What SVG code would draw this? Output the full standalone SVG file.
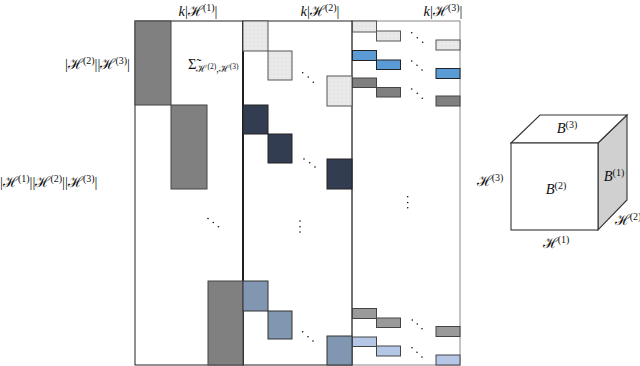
<svg xmlns="http://www.w3.org/2000/svg" width="640" height="366" viewBox="0 0 640 366">
<defs>
<pattern id="dots" width="4" height="4" patternUnits="userSpaceOnUse">
<rect width="4" height="4" fill="#e9e9e9"/>
<circle cx="2" cy="2" r="0.4" fill="#c8c8c8"/>
</pattern>
</defs>
<style>
text{font-family:"Liberation Serif","DejaVu Serif",serif;font-size:14.5px;fill:#111}
.it{font-style:italic}
.sup{font-size:10px}
.g{fill:#808080;stroke:#444;stroke-width:1}
.lg{fill:url(#dots);stroke:#555;stroke-width:1}
.nv{fill:#333d52;stroke:#222;stroke-width:1}
.bg{fill:#8096b1;stroke:#333;stroke-width:1}
.bl{fill:#5b9bd5;stroke:#222;stroke-width:1}
.g3{fill:#9a9a9a;stroke:#444;stroke-width:1}
.lb{fill:#b4c7e7;stroke:#444;stroke-width:1}
.dot{fill:#111}
.frame{fill:none;stroke:#222;stroke-width:1}
.frame3{fill:none;stroke:#888;stroke-width:1}
.cube{stroke:#333;stroke-width:1.1}
</style>
<rect width="640" height="366" fill="#fff"/>

<g id="matrix-frame">
<rect class="frame3" x="352" y="21" width="108" height="344"/>
<rect class="frame" x="135" y="21" width="108" height="344"/>
<rect class="frame" x="243" y="21" width="109" height="344"/>
<line x1="243" y1="21" x2="243" y2="365" stroke="#111" stroke-width="1.6"/>
</g>

<g id="col1">
<rect class="g" x="135" y="21" width="36" height="84"/>
<rect class="g" x="171" y="105" width="36" height="84"/>
<rect class="g" x="208" y="281" width="35" height="84"/>
<circle class="dot" cx="208" cy="218.5" r="0.8"/>
<circle class="dot" cx="213.3" cy="222.5" r="0.8"/>
<circle class="dot" cx="218.5" cy="226.7" r="0.8"/>
</g>

<g id="col2">
<rect class="lg" x="243" y="21" width="25" height="30"/>
<rect class="lg" x="268" y="51" width="24" height="29"/>
<rect class="lg" x="327" y="76" width="25" height="30"/>
<circle class="dot" cx="302.7" cy="72.7" r="0.8"/>
<circle class="dot" cx="308.3" cy="77" r="0.8"/>
<circle class="dot" cx="313.3" cy="82.3" r="0.8"/>
<rect class="nv" x="243" y="105" width="25" height="29"/>
<rect class="nv" x="268" y="134" width="24" height="29"/>
<rect class="nv" x="327" y="159" width="25" height="30"/>
<circle class="dot" cx="304" cy="159" r="0.8"/>
<circle class="dot" cx="309.7" cy="162.7" r="0.8"/>
<circle class="dot" cx="315" cy="167" r="0.8"/>
<circle class="dot" cx="300" cy="221" r="0.8"/>
<circle class="dot" cx="300" cy="226.7" r="0.8"/>
<circle class="dot" cx="300" cy="232" r="0.8"/>
<rect class="bg" x="243" y="281" width="25" height="30"/>
<rect class="bg" x="268" y="311" width="24" height="28"/>
<rect class="bg" x="327" y="336" width="25" height="29"/>
<circle class="dot" cx="302.7" cy="331.7" r="0.8"/>
<circle class="dot" cx="308" cy="336.7" r="0.8"/>
<circle class="dot" cx="313" cy="341" r="0.8"/>
</g>

<g id="col3">
<rect class="lg" x="352.5" y="21" width="24" height="11"/>
<rect class="lg" x="376.5" y="31" width="24" height="10"/>
<rect class="lg" x="436" y="40" width="24" height="10"/>
<circle class="dot" cx="411.7" cy="32.7" r="0.8"/>
<circle class="dot" cx="417.3" cy="37.7" r="0.8"/>
<circle class="dot" cx="422.7" cy="42.3" r="0.8"/>
<rect class="bl" x="352.5" y="50.5" width="24" height="10"/>
<rect class="bl" x="376.5" y="60" width="24" height="9.5"/>
<rect class="bl" x="436" y="68.5" width="24" height="10"/>
<circle class="dot" cx="411.7" cy="61" r="0.8"/>
<circle class="dot" cx="417" cy="65.3" r="0.8"/>
<circle class="dot" cx="422" cy="70" r="0.8"/>
<rect class="g" x="352.5" y="78" width="24" height="9.5"/>
<rect class="g" x="376.5" y="87.5" width="24" height="9.5"/>
<rect class="g" x="436" y="96" width="24" height="10"/>
<circle class="dot" cx="411.7" cy="89" r="0.8"/>
<circle class="dot" cx="417.3" cy="93.3" r="0.8"/>
<circle class="dot" cx="422.3" cy="98.3" r="0.8"/>
<circle class="dot" cx="407.7" cy="196.7" r="0.8"/>
<circle class="dot" cx="407.7" cy="202.5" r="0.8"/>
<circle class="dot" cx="407.7" cy="207.7" r="0.8"/>
<rect class="g3" x="352.5" y="308.5" width="24" height="10"/>
<rect class="g3" x="376.5" y="318" width="24" height="9.5"/>
<rect class="g3" x="436" y="326.5" width="24" height="10"/>
<circle class="dot" cx="412.3" cy="320" r="0.8"/>
<circle class="dot" cx="417.3" cy="324" r="0.8"/>
<circle class="dot" cx="422" cy="328.7" r="0.8"/>
<rect class="lb" x="352.5" y="337" width="24" height="9.5"/>
<rect class="lb" x="376.5" y="346" width="24" height="10"/>
<rect class="lb" x="436" y="355" width="24" height="10"/>
<circle class="dot" cx="412" cy="347.7" r="0.8"/>
<circle class="dot" cx="417" cy="352.3" r="0.8"/>
<circle class="dot" cx="422" cy="357" r="0.8"/>
</g>

<g id="labels">
<text x="198" y="16" text-anchor="middle"><tspan class="it">k</tspan>|ℋ<tspan class="sup" dy="-5">(1)</tspan><tspan dy="5">|</tspan></text>
<text x="320" y="16" text-anchor="middle"><tspan class="it">k</tspan>|ℋ<tspan class="sup" dy="-5">(2)</tspan><tspan dy="5">|</tspan></text>
<text x="443" y="16" text-anchor="middle"><tspan class="it">k</tspan>|ℋ<tspan class="sup" dy="-5">(3)</tspan><tspan dy="5">|</tspan></text>
<text x="130" y="69" text-anchor="end">|ℋ<tspan class="sup" dy="-5">(2)</tspan><tspan dy="5">||ℋ</tspan><tspan class="sup" dy="-5">(3)</tspan><tspan dy="5">|</tspan></text>
<text x="188" y="69">Σ̃<tspan style="font-size:10px" dy="3">ℋ</tspan><tspan style="font-size:7.5px" dy="-3">(2)</tspan><tspan style="font-size:10px" dy="3">,ℋ</tspan><tspan style="font-size:7.5px" dy="-3">(3)</tspan></text>
<text x="0" y="187">|ℋ<tspan class="sup" dy="-5">(1)</tspan><tspan dy="5">||ℋ</tspan><tspan class="sup" dy="-5">(2)</tspan><tspan dy="5">||ℋ</tspan><tspan class="sup" dy="-5">(3)</tspan><tspan dy="5">|</tspan></text>
</g>

<g id="cube">
<polygon class="cube" points="598,143 627,115 627,200 598,230" fill="#d0d0d0"/>
<polygon class="cube" points="511,143 540,115 627,115 598,143" fill="#fff"/>
<rect class="cube" x="511" y="143" width="87" height="87" fill="#fff"/>
<text x="567" y="133" text-anchor="middle"><tspan class="it">B</tspan><tspan class="sup" dy="-5">(3)</tspan></text>
<text x="556" y="194" text-anchor="middle"><tspan class="it">B</tspan><tspan class="sup" dy="-5">(2)</tspan></text>
<text x="614" y="181" text-anchor="middle"><tspan class="it">B</tspan><tspan class="sup" dy="-5">(1)</tspan></text>
<text x="490" y="186" text-anchor="middle">ℋ<tspan class="sup" dy="-5">(3)</tspan></text>
<text x="628" y="225" text-anchor="middle">ℋ<tspan class="sup" dy="-5">(2)</tspan></text>
<text x="556" y="248" text-anchor="middle">ℋ<tspan class="sup" dy="-5">(1)</tspan></text>
</g>
</svg>
